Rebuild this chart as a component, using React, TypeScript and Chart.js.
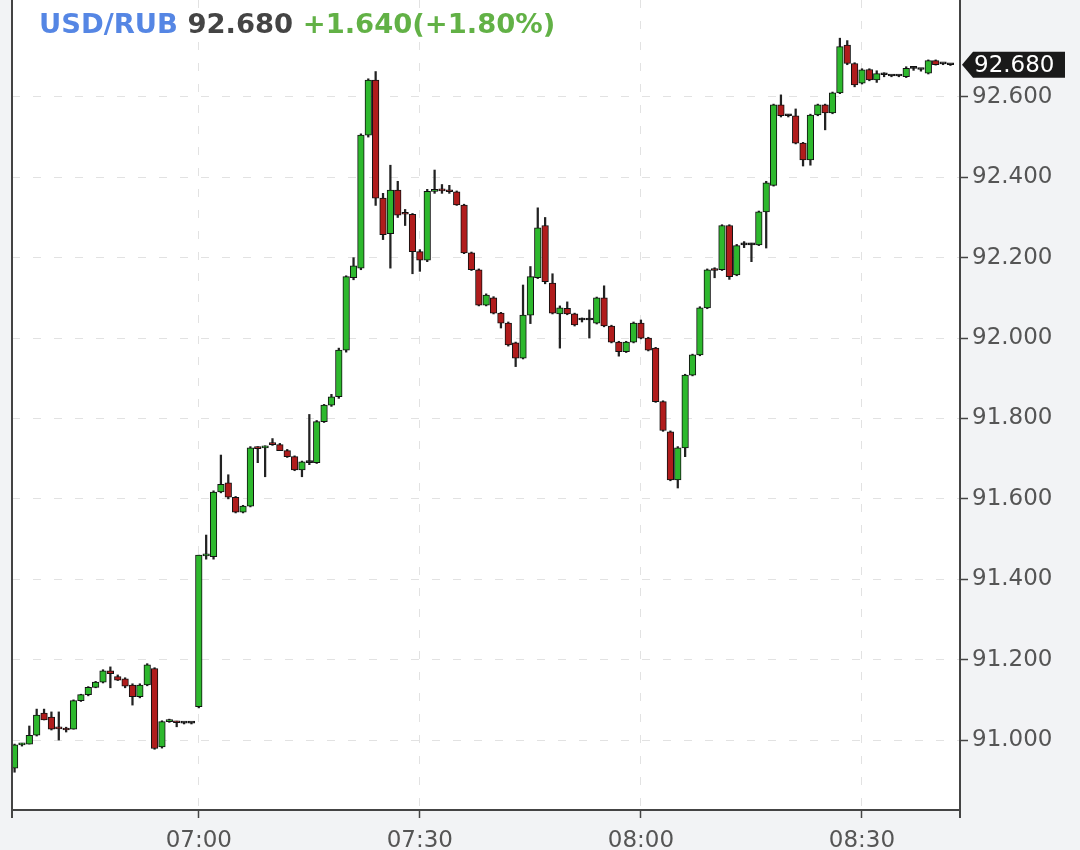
import React, { useEffect, useRef } from 'react';
import { Chart, registerables } from 'chart.js';

Chart.register(...registerables);

// minutes relative to 07:00 of the first candle (06:35)
const START_MINUTE = -25;

const opens = [
  90.93, 90.988, 90.99, 91.012, 91.067, 91.057, 91.03, 91.028, 91.027, 91.098,
  91.113, 91.131, 91.144, 91.172, 91.158, 91.152, 91.137, 91.108, 91.137, 91.178,
  90.983, 91.046, 91.045, 91.042, 91.042,
  91.083, 91.458, 91.456, 91.617, 91.64, 91.604, 91.567, 91.582, 91.727, 91.727,
  91.74, 91.735, 91.72, 91.705, 91.672, 91.69, 91.69, 91.792, 91.833, 91.854,
  91.97, 92.15, 92.174, 92.505, 92.642, 92.348, 92.26, 92.368, 92.31, 92.308,
  92.215, 92.194, 92.365, 92.368, 92.366, 92.364, 92.331, 92.212, 92.17, 92.082,
  92.1, 92.062, 92.037, 91.988, 91.95, 92.057, 92.15, 92.28, 92.137, 92.06,
  92.074, 92.06, 92.045, 92.045, 92.037, 92.1, 92.03, 91.99, 91.966, 91.99,
  92.037, 92.0, 91.975, 91.842, 91.767, 91.647, 91.727, 91.908, 91.958, 92.075,
  92.17, 92.17, 92.28, 92.157, 92.232, 92.232, 92.232, 92.314, 92.38, 92.58,
  92.553, 92.553, 92.485, 92.443, 92.555, 92.58, 92.56, 92.61, 92.729, 92.683,
  92.634, 92.668, 92.642, 92.655, 92.652, 92.652, 92.65, 92.671, 92.668, 92.659,
  92.69, 92.682, 92.68,
];
const highs = [
  90.99, 90.992, 91.035, 91.077, 91.077, 91.07, 91.07, 91.032, 91.1, 91.114,
  91.133, 91.146, 91.175, 91.182, 91.162, 91.155, 91.14, 91.14, 91.19, 91.18,
  91.048, 91.052, 91.047, 91.044, 91.044,
  91.46, 91.51, 91.62, 91.709, 91.66, 91.606, 91.584, 91.73, 91.73, 91.732,
  91.75, 91.738, 91.723, 91.707, 91.694, 91.81, 91.795, 91.835, 91.86, 91.975,
  92.155, 92.2, 92.508, 92.645, 92.663, 92.36, 92.43, 92.39, 92.32, 92.31,
  92.22, 92.37, 92.418, 92.382, 92.38, 92.366, 92.333, 92.214, 92.172, 92.11,
  92.103, 92.064, 92.04, 91.99, 92.132, 92.178, 92.324, 92.3, 92.16, 92.08,
  92.09, 92.062, 92.05, 92.07, 92.102, 92.13, 92.032, 91.992, 91.992, 92.04,
  92.045, 92.002, 91.977, 91.844, 91.769, 91.73, 91.91, 91.96, 92.078, 92.172,
  92.175, 92.282, 92.282, 92.233, 92.24, 92.236, 92.316, 92.39, 92.582, 92.605,
  92.556, 92.57, 92.487, 92.557, 92.582, 92.582, 92.612, 92.746, 92.74, 92.685,
  92.67, 92.67, 92.665, 92.66, 92.654, 92.654, 92.675, 92.676, 92.67, 92.692,
  92.692, 92.684, 92.682,
];
const lows = [
  90.92, 90.985, 90.99, 91.01, 91.05, 91.025, 91.0, 91.02, 91.027, 91.096,
  91.11, 91.13, 91.142, 91.13, 91.148, 91.13, 91.087, 91.105, 91.135, 90.977,
  90.98, 91.044, 91.033, 91.04, 91.04,
  91.08, 91.45, 91.45, 91.615, 91.6, 91.565, 91.565, 91.58, 91.69, 91.655,
  91.733, 91.72, 91.703, 91.67, 91.655, 91.685, 91.688, 91.79, 91.83, 91.85,
  91.965, 92.145, 92.17, 92.5, 92.33, 92.245, 92.174, 92.3, 92.28, 92.16,
  92.166, 92.19, 92.36, 92.36, 92.36, 92.33, 92.21, 92.168, 92.08, 92.08,
  92.06, 92.025, 91.98, 91.929, 91.948, 92.036, 92.148, 92.135, 92.06, 91.975,
  92.058, 92.03, 92.04, 92.0, 92.035, 92.028, 91.988, 91.955, 91.964, 91.988,
  91.998, 91.968, 91.84, 91.768, 91.645, 91.627, 91.705, 91.906, 91.956, 92.073,
  92.15, 92.168, 92.146, 92.155, 92.225, 92.19, 92.23, 92.224, 92.378, 92.55,
  92.55, 92.483, 92.428, 92.43, 92.553, 92.518, 92.558, 92.608, 92.68, 92.625,
  92.632, 92.64, 92.636, 92.65, 92.65, 92.65, 92.648, 92.666, 92.664, 92.657,
  92.679, 92.68, 92.678,
];
const closes = [
  90.988, 90.992, 91.012, 91.062, 91.05, 91.027, 91.028, 91.025, 91.098, 91.113,
  91.131, 91.144, 91.172, 91.165, 91.149, 91.134, 91.108, 91.137, 91.187, 90.979,
  91.046, 91.05, 91.043, 91.042, 91.042,
  91.46, 91.46, 91.617, 91.636, 91.604, 91.567, 91.582, 91.727, 91.725, 91.73,
  91.735, 91.72, 91.705, 91.672, 91.692, 91.69, 91.792, 91.833, 91.854, 91.97,
  92.153, 92.18, 92.505, 92.642, 92.348, 92.257, 92.368, 92.306, 92.308, 92.215,
  92.194, 92.365, 92.368, 92.366, 92.364, 92.331, 92.212, 92.17, 92.082, 92.107,
  92.062, 92.037, 91.983, 91.95, 92.057, 92.153, 92.274, 92.14, 92.062, 92.075,
  92.06, 92.033, 92.045, 92.045, 92.1, 92.03, 91.99, 91.966, 91.99, 92.037,
  92.0, 91.97, 91.842, 91.77, 91.647, 91.727, 91.908, 91.958, 92.075, 92.17,
  92.168, 92.28, 92.153, 92.23, 92.232, 92.232, 92.314, 92.386, 92.58, 92.553,
  92.553, 92.485, 92.443, 92.555, 92.58, 92.56, 92.61, 92.725, 92.683, 92.63,
  92.667, 92.642, 92.658, 92.655, 92.652, 92.652, 92.671, 92.671, 92.668, 92.69,
  92.68, 92.682, 92.68,
];

const xTickValues = [0, 30, 60, 90];
const xTickLabels = ['07:00', '07:30', '08:00', '08:30'];
const yTickValues = [91.0, 91.2, 91.4, 91.6, 91.8, 92.0, 92.2, 92.4, 92.6];

const titleSymbol = 'USD/RUB';
const titlePrice = '92.680';
const titleChange = '+1.640(+1.80%)';
const lastPrice = 92.68;

const GREEN = '#2db82d';
const RED = '#b01c1c';
const FONT = '"DejaVu Sans", sans-serif';

const minutes = closes.map((_, i) => START_MINUTE + i);

const decorPlugin = {
  id: 'decor',
  beforeDraw(chart: any) {
    const { ctx, chartArea: a, width, height } = chart;
    ctx.save();
    ctx.fillStyle = '#f2f3f5';
    ctx.fillRect(0, 0, width, height);
    ctx.fillStyle = '#ffffff';
    ctx.fillRect(a.left, 0, a.right - a.left, a.bottom);
    ctx.restore();
  },
  afterDraw(chart: any) {
    const { ctx, chartArea: a, scales } = chart;
    ctx.save();
    // left border
    ctx.strokeStyle = '#444';
    ctx.lineWidth = 2;
    ctx.beginPath();
    ctx.moveTo(a.left, 0);
    ctx.lineTo(a.left, a.bottom + 8);
    ctx.stroke();
    // right-end tick below the axis
    ctx.beginPath();
    ctx.moveTo(a.right, a.bottom);
    ctx.lineTo(a.right, a.bottom + 8);
    ctx.stroke();

    // last price marker
    const y = scales.y.getPixelForValue(lastPrice);
    const x0 = a.right + 2;
    ctx.fillStyle = '#1a1a1a';
    ctx.beginPath();
    ctx.moveTo(x0, y);
    ctx.lineTo(x0 + 11, y - 13);
    ctx.lineTo(1065, y - 13);
    ctx.lineTo(1065, y + 13);
    ctx.lineTo(x0 + 11, y + 13);
    ctx.closePath();
    ctx.fill();
    ctx.fillStyle = '#ffffff';
    ctx.font = `23px ${FONT}`;
    ctx.textBaseline = 'middle';
    ctx.textAlign = 'left';
    ctx.fillText(titlePrice, 974, y + 1);

    // title
    ctx.font = `bold 27.4px ${FONT}`;
    ctx.textBaseline = 'middle';
    let tx = 39;
    const ty = 26;
    const parts: [string, string][] = [
      [titleSymbol, '#5586e4'],
      [' ' + titlePrice, '#444444'],
      [' ' + titleChange, '#62b146'],
    ];
    for (const [t, c] of parts) {
      ctx.fillStyle = c;
      ctx.fillText(t, tx, ty);
      tx += ctx.measureText(t).width;
    }
    ctx.restore();
  },
};

export default function App() {
  const ref = useRef<HTMLCanvasElement | null>(null);

  useEffect(() => {
    document.body.style.margin = '0';
    const canvas = ref.current;
    if (!canvas) return;
    const bodies = minutes.map((m, i) => ({ x: m, y: [opens[i], closes[i]] }));
    const wicks = minutes.map((m, i) => ({ x: m, y: [lows[i], highs[i]] }));
    const colors = minutes.map((_, i) =>
      closes[i] > opens[i] ? GREEN : closes[i] < opens[i] ? RED : '#222'
    );

    const chart = new Chart(canvas, {
      type: 'bar',
      data: {
        datasets: [
          {
            label: 'body',
            data: bodies as any,
            backgroundColor: colors,
            borderColor: '#111',
            borderWidth: 1,
            borderSkipped: false,
            barThickness: 6.6,
            minBarLength: 2,
            grouped: false,
            order: 1,
          } as any,
          {
            label: 'wick',
            data: wicks as any,
            backgroundColor: '#222',
            borderWidth: 0,
            barThickness: 1.6,
            minBarLength: 1,
            grouped: false,
            order: 2,
          } as any,
        ],
      },
      options: {
        animation: false,
        responsive: false,
        maintainAspectRatio: false,
        layout: { padding: { left: 12, top: 0, right: 0, bottom: 0 } },
        plugins: {
          legend: { display: false },
          tooltip: { enabled: false },
          title: { display: false },
        },
        scales: {
          x: {
            type: 'linear',
            min: -25.35,
            max: 103.3,
            offset: false,
            afterBuildTicks: (s: any) => {
              s.ticks = xTickValues.map((v) => ({ value: v }));
            },
            afterFit: (s: any) => {
              s.height = 40;
              s.paddingLeft = 0;
              s.paddingRight = 0;
            },
            ticks: {
              autoSkip: false,
              maxRotation: 0,
              padding: 9,
              color: '#555',
              font: { family: FONT, size: 23 },
              callback: (_v: any, i: number) => xTickLabels[i],
            },
            grid: {
              offset: false,
              color: '#e2e2e2',
              lineWidth: 1,
              tickColor: '#444',
              tickLength: 8,
              tickWidth: 1.5,
            },
            border: { display: true, color: '#444', width: 2, dash: [8, 13] },
          } as any,
          y: {
            type: 'linear',
            position: 'right',
            min: 90.826,
            max: 92.841,
            afterBuildTicks: (s: any) => {
              s.ticks = yTickValues.map((v) => ({ value: v }));
            },
            afterFit: (s: any) => {
              s.width = 120;
              s.paddingTop = 0;
              s.paddingBottom = 0;
            },
            ticks: {
              padding: 4,
              color: '#555',
              font: { family: FONT, size: 23 },
              callback: (v: any) => Number(v).toFixed(3),
            },
            grid: {
              color: '#e2e2e2',
              lineWidth: 1,
              tickColor: '#444',
              tickLength: 8,
              tickWidth: 1.5,
            },
            border: { display: true, color: '#444', width: 2, dash: [8, 13] },
          } as any,
        },
      },
      plugins: [decorPlugin],
    });
    return () => chart.destroy();
  }, []);

  return (
    <div style={{ width: 1080, height: 850, position: 'relative' }}>
      <canvas ref={ref} width={1080} height={850} style={{ display: 'block' }} />
    </div>
  );
}
